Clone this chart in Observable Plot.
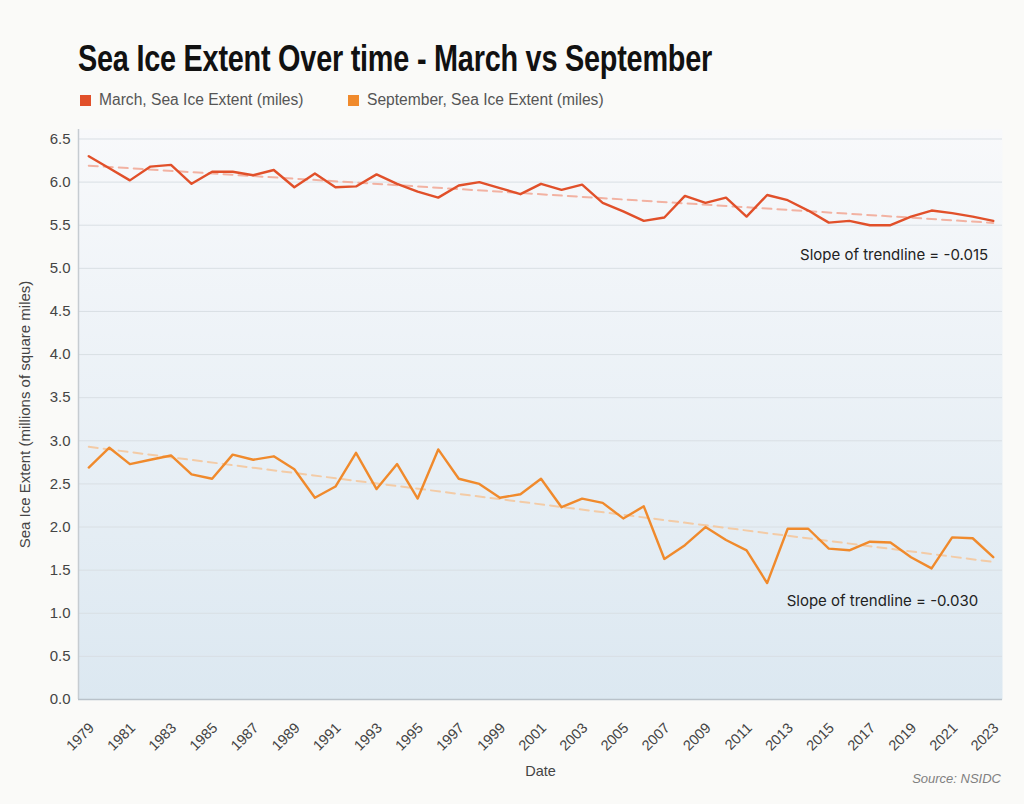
<!DOCTYPE html>
<html>
<head>
<meta charset="utf-8">
<script src="https://cdn.jsdelivr.net/npm/d3@7"></script>
<script src="https://cdn.jsdelivr.net/npm/@observablehq/plot@0.6"></script>
<style>
  html, body { margin: 0; padding: 0; background: #fafaf8; }
  #wrap { position: relative; width: 1024px; height: 804px; overflow: hidden; background: #fafaf8; }
  #title { position: absolute; left: 78px; top: 38px; font-family: "Liberation Sans Narrow", "Liberation Sans", Arial, sans-serif; font-weight: bold; font-size: 37px; color: #111; white-space: nowrap; transform-origin: 0 0; letter-spacing: -0.3px; }
  #legend { position: absolute; left: 80px; top: 91px; font-family: "Liberation Sans", Arial, sans-serif; font-size: 15.6px; color: #555; white-space: nowrap; }
  #legend .item { position: absolute; top: 0; display: flex; align-items: center; }
  #legend .sw { width: 11px; height: 11px; margin-right: 8px; display: inline-block; }
  #chart { position: absolute; left: 0; top: 115px; }
  #source { position: absolute; right: 23px; top: 771px; font-family: "Liberation Sans Narrow", "Liberation Sans", Arial, sans-serif; font-style: italic; font-size: 13px; color: #808080; }
</style>
</head>
<body>
<div id="wrap">
  <div id="title">Sea Ice Extent Over time - March vs September</div>
  <div id="legend"></div>
  <div id="chart"></div>
  <div id="source">Source: NSIDC</div>
</div>
<script>
// ---- Data ----
const years = d3.range(1979, 2024);
const march = [6.30, 6.16, 6.02, 6.18, 6.20, 5.98, 6.12, 6.12, 6.08, 6.14,
               5.94, 6.10, 5.94, 5.95, 6.09, 5.98, 5.89, 5.82, 5.96, 6.00,
               5.93, 5.86, 5.98, 5.91, 5.97, 5.76, 5.66, 5.55, 5.59, 5.84,
               5.76, 5.82, 5.60, 5.85, 5.79, 5.67, 5.53, 5.55, 5.50, 5.50,
               5.60, 5.67, 5.64, 5.60, 5.55];
const september = [2.69, 2.92, 2.73, 2.78, 2.83, 2.61, 2.56, 2.84, 2.78, 2.82,
                   2.67, 2.34, 2.47, 2.86, 2.44, 2.73, 2.33, 2.90, 2.56, 2.50,
                   2.34, 2.38, 2.56, 2.23, 2.33, 2.28, 2.10, 2.24, 1.63, 1.79,
                   2.00, 1.85, 1.73, 1.35, 1.98, 1.98, 1.75, 1.73, 1.83, 1.82,
                   1.65, 1.52, 1.88, 1.87, 1.65];
const seriesNames = ["March, Sea Ice Extent (miles)", "September, Sea Ice Extent (miles)"];
const seriesColors = ["#e1502a", "#f08a2c"];
const trendColors = ["#f2b2a2", "#f3cba6"];
const annotationLabels = ["Slope of trendline = -0.015", "Slope of trendline = -0.030"];
const annotationYears = [2022.75, 2022.27];
const annotationValues = [5.15, 1.14];
const xTicks = d3.range(1979, 2024, 2);
const yTicks = d3.range(0, 6.51, 0.5);
const xDomain = [1978.5, 2023.45];
const yDomain = [0, 6.61];

// ---- Tables ----
const marchData = years.map((y, i) => ({year: y, value: march[i]}));
const septData = years.map((y, i) => ({year: y, value: september[i]}));
const annotations = annotationLabels.map((t, i) => ({label: t, year: annotationYears[i], value: annotationValues[i]}));

// ---- Legend ----
const legend = d3.select("#legend");
const legendLefts = [0, 268];
seriesNames.forEach((name, i) => {
  const it = legend.append("div").attr("class", "item").style("left", legendLefts[i] + "px");
  it.append("span").attr("class", "sw").style("background", seriesColors[i]);
  it.append("span").text(name);
});

// ---- Chart ----
const chart = Plot.plot({
  width: 1024,
  height: 675,
  marginTop: 14,
  marginBottom: 91,
  marginLeft: 78,
  marginRight: 22,
  style: {background: "transparent", fontFamily: "'Liberation Sans', Arial, sans-serif", color: "#444", overflow: "visible"},
  x: {domain: xDomain},
  y: {domain: yDomain},
  marks: [
    Plot.frame({fill: "url(#plotBg)", stroke: "none"}),
    Plot.gridY(yTicks, {stroke: "#d9dfe4", strokeOpacity: 1, strokeWidth: 1}),
    Plot.ruleX([xDomain[0]], {stroke: "#c6ccd1", strokeWidth: 1.5}),
    Plot.ruleY([0], {stroke: "#b9c2ca", strokeWidth: 1.5}),
    Plot.axisY({ticks: yTicks, tickFormat: ".1f", tickSize: 0, tickPadding: 8, fontSize: 15,
      label: "Sea Ice Extent (millions of square miles)", labelAnchor: "center", labelOffset: 59, labelArrow: "none", fill: "#444"}),
    Plot.axisX({ticks: xTicks, tickFormat: d => String(d), tickSize: 0, tickPadding: 18, tickRotate: -45, fontSize: 14.5,
      dx: 3, dy: 8, label: null, fill: "#444"}),
    Plot.axisX({ticks: [], tickSize: 0, label: "Date", labelAnchor: "center", labelOffset: 76, labelArrow: "none", fontSize: 14.5, fill: "#444"}),
    Plot.linearRegressionY(marchData, {x: "year", y: "value", stroke: trendColors[0], strokeWidth: 2, strokeDasharray: "9,6", ci: 0}),
    Plot.linearRegressionY(septData, {x: "year", y: "value", stroke: trendColors[1], strokeWidth: 2, strokeDasharray: "9,6", ci: 0}),
    Plot.lineY(marchData, {x: "year", y: "value", stroke: seriesColors[0], strokeWidth: 2.4}),
    Plot.lineY(septData, {x: "year", y: "value", stroke: seriesColors[1], strokeWidth: 2.4}),
    Plot.text(annotations, {x: "year", y: "value", text: "label", textAnchor: "end", fontSize: 15, fill: "#222", fontFamily: "Inter, 'Noto Sans', sans-serif"})
  ]
});

const defs = d3.select(chart).insert("defs", ":first-child");
const grad = defs.append("linearGradient").attr("id", "plotBg").attr("x1", 0).attr("y1", 0).attr("x2", 0).attr("y2", 1);
grad.append("stop").attr("offset", "0%").attr("stop-color", "#f8f9fb");
grad.append("stop").attr("offset", "100%").attr("stop-color", "#dce8f1");

document.getElementById("chart").appendChild(chart);

// fit title to reference width
const title = document.getElementById("title");
const w = title.getBoundingClientRect().width;
title.style.transform = `scaleX(${634 / w})`;
</script>
</body>
</html>
